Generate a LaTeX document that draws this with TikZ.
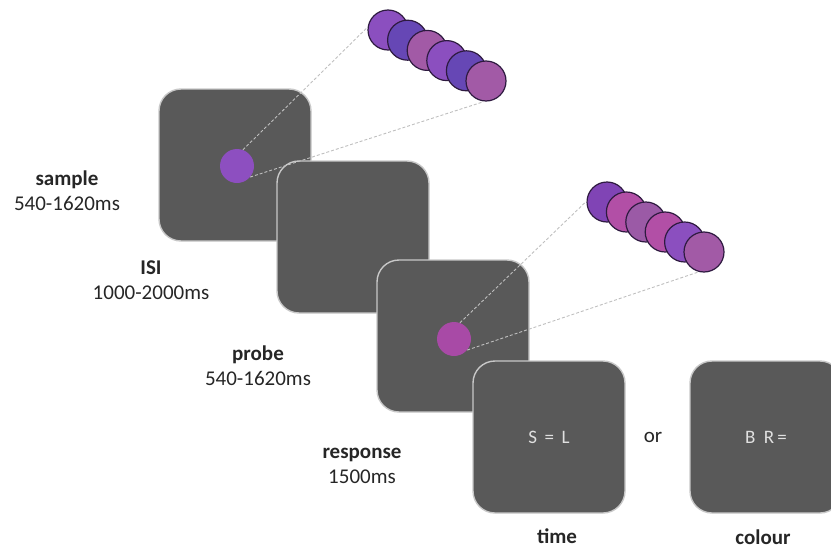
\documentclass[tikz,border=0pt]{standalone}
\usepackage{fontspec}
\setmainfont{Carlito}
\usetikzlibrary{positioning}

\definecolor{screengrey}{HTML}{595959}
\definecolor{screenedge}{HTML}{C8C8C8}
\definecolor{beadedge}{HTML}{2E1A40}
\definecolor{textgrey}{HTML}{262626}
\definecolor{violetA}{HTML}{8B4FBF}
\definecolor{violetB}{HTML}{6647B5}
\definecolor{violetC}{HTML}{A25AA6}
\definecolor{violetD}{HTML}{8044B5}
\definecolor{magentaA}{HTML}{B24FA6}
\definecolor{magentaB}{HTML}{9B5AA6}
\definecolor{dotsample}{HTML}{8D4FC0}
\definecolor{dotprobe}{HTML}{A84AA6}

\begin{document}
\begin{tikzpicture}[x=1pt, y=-1pt,
  screen/.style={draw=screenedge, line width=1.4pt, fill=screengrey,
    rounded corners=22pt, minimum width=152pt, minimum height=152pt,
    inner sep=0pt, text=black!12, font=\fontsize{19}{22}\selectfont},
  dot/.style={circle, fill=#1, minimum size=34pt, inner sep=0pt},
  bead/.style={circle, draw=beadedge, line width=1.2pt, fill=#1,
    minimum size=40pt, inner sep=0pt},
  link/.style={densely dashed, draw=black!25, line width=0.9pt},
  timing/.style={align=center, text=textgrey,
    font=\fontsize{21}{25}\selectfont}]

\path [use as bounding box, clip] (0,0) rectangle (831,549);

\foreach \m/\x/\y/\t in {sample/235/165/{}, isi/353/237/{}, probe/453/336/{},
    time/549/437/{S\ \,=\ \,L}, colour/766/437/{B\hspace{0.45em}R\,=}}
  \node [screen] (\m) at (\x,\y) {\t};

\node [dot=dotsample] (sample-dot) at (237,166) {};
\node [dot=dotprobe] (probe-dot) at (454,339) {};

\foreach \c [count=\i] in {violetA,violetB,violetC,violetA,violetB,violetC}
  \node [bead=\c] (sample-\i) at ({368.4+19.6*\i},{19.8+10.2*\i}) {};

\foreach \c [count=\i] in {violetD,magentaA,magentaB,magentaA,violetA,violetC}
  \node [bead=\c] (probe-\i) at ({587.6+19.4*\i},{192+10*\i}) {};

\draw [link] (sample-dot.70) -- (sample-1.172);
\draw [link] (sample-dot.-40) -- (sample-6.-95);
\draw [link] (probe-dot.70) -- (probe-1.178);
\draw [link] (probe-dot.-40) -- (probe-6.-105);

\foreach \n/\l/\t/\x/\y in {sample/sample/540-1620ms/67/191,
    isi/ISI/1000-2000ms/151/280, probe/probe/540-1620ms/258/366,
    response/response/1500ms/362/466}
  \node [timing] (\n-label) at (\x,\y) {\textbf{\l}\\\t};

\node [timing] (time-label) at (557,536) {\textbf{time}};
\node [timing] (colour-label) at (763,537) {\textbf{colour}};
\node [timing] (or-label) at (653,437) {or};

\end{tikzpicture}
\end{document}
